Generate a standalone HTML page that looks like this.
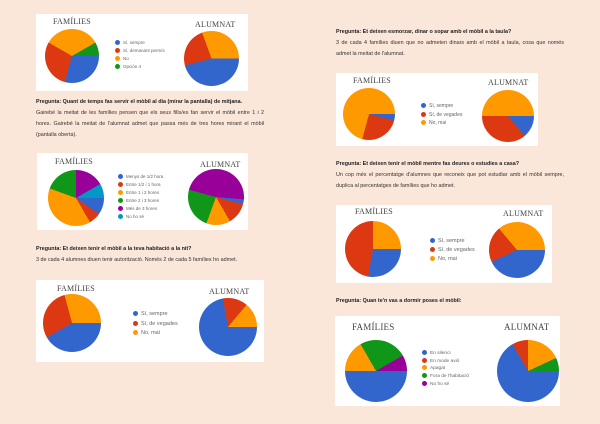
<!DOCTYPE html>
<html><head><meta charset="utf-8"><style>
body{margin:0;width:600px;height:424px;background:#fbe6da;position:relative;overflow:hidden;font-family:"Liberation Sans",sans-serif;}
.box{position:absolute;background:#fff;}
.pie{position:absolute;border-radius:50%;}
.t{position:absolute;font-family:"Liberation Serif",serif;color:#444;font-size:8px;letter-spacing:0.2px;}
.lg{position:absolute;font-size:4.5px;color:#666;line-height:8px;}
.lg span{display:inline-block;width:5px;height:5px;border-radius:50%;margin-right:3px;vertical-align:-1px;}
.p{position:absolute;font-size:5.4px;color:#333;line-height:11px;}
.p b{color:#222;}
.bu{background:#3366cc}.re{background:#dc3912}.or{background:#ff9900}.gr{background:#109618}.pu{background:#990099}.cy{background:#0099c6}
</style></head><body>

<!-- chart 1 -->
<div class="box" style="left:36px;top:14px;width:212px;height:77px"></div>
<div class="t" style="left:53px;top:17px">FAMÍLIES</div>
<div class="t" style="left:195px;top:20px">ALUMNAT</div>
<div class="pie" style="left:45px;top:29px;width:54px;height:54px;background:conic-gradient(#ff9900 0 60deg,#109618 60deg 90deg,#3366cc 90deg 195deg,#dc3912 195deg 300deg,#ff9900 300deg)"></div>
<div class="pie" style="left:184px;top:31px;width:55px;height:55px;background:conic-gradient(#ff9900 0 90deg,#3366cc 90deg 255deg,#dc3912 255deg 340deg,#ff9900 340deg)"></div>
<div class="lg" style="left:115px;top:39px">
<div><span class="bu"></span>Sí, sempre</div><div><span class="re"></span>Sí, demanant permís</div><div><span class="or"></span>No</div><div><span class="gr"></span>Opción 4</div></div>

<div class="p" style="left:36px;top:97px;width:228px;text-align:justify">
<b>Pregunta: Quant de temps fas servir el mòbil al dia (mirar la pantalla) de mitjana.</b><br>
Gairebé la meitat de les famílies pensen que els seus fills/es fan servir el mòbil entre 1 i 2 hores. Gairebé la meitat de l'alumnat admet que passa més de tres hores mirant el mòbil (pantalla oberta).</div>

<!-- chart 2 -->
<div class="box" style="left:37px;top:153px;width:211px;height:77px"></div>
<div class="t" style="left:55px;top:157px">FAMÍLIES</div>
<div class="t" style="left:200px;top:160px">ALUMNAT</div>
<div class="pie" style="left:48px;top:170px;width:56px;height:56px;background:conic-gradient(#990099 0 60deg,#0099c6 60deg 90deg,#3366cc 90deg 125deg,#dc3912 125deg 150deg,#ff9900 150deg 290deg,#109618 290deg)"></div>
<div class="pie" style="left:188px;top:169px;width:56px;height:56px;background:conic-gradient(#990099 0 95deg,#3366cc 95deg 105deg,#dc3912 105deg 150deg,#ff9900 150deg 200deg,#109618 200deg 285deg,#990099 285deg)"></div>
<div class="lg" style="left:118px;top:173px">
<div><span class="bu"></span>Menys de 1/2 hora</div><div><span class="re"></span>Entre 1/2 i 1 hora</div><div><span class="or"></span>Entre 1 i 2 hores</div><div><span class="gr"></span>Entre 2 i 3 hores</div><div><span class="pu"></span>Més de 3 hores</div><div><span class="cy"></span>No ho sé</div></div>

<div class="p" style="left:36px;top:244px;width:250px">
<b>Pregunta: Et deixen tenir el mòbil a la teva habitació a la nit?</b><br>
3 de cada 4 alumnes diuen tenir autorització. Només 2 de cada 5 famílies ho admet.</div>

<!-- chart 3 -->
<div class="box" style="left:36px;top:280px;width:228px;height:82px"></div>
<div class="t" style="left:57px;top:284px">FAMÍLIES</div>
<div class="t" style="left:209px;top:287px">ALUMNAT</div>
<div class="pie" style="left:43px;top:294px;width:58px;height:58px;background:conic-gradient(#ff9900 0 90deg,#3366cc 90deg 240deg,#dc3912 240deg 345deg,#ff9900 345deg)"></div>
<div class="pie" style="left:199px;top:298px;width:58px;height:58px;background:conic-gradient(#dc3912 0 40deg,#ff9900 40deg 90deg,#3366cc 90deg 350deg,#dc3912 350deg)"></div>
<div class="lg" style="left:133px;top:310px;font-size:5.5px;line-height:9.7px">
<div><span class="bu"></span>Sí, sempre</div><div><span class="re"></span>Sí, de vegades</div><div><span class="or"></span>No, mai</div></div>

<!-- right column -->
<div class="p" style="left:336px;top:27px;width:228px;text-align:justify">
<b>Pregunta: Et deixen esmorzar, dinar o sopar amb el mòbil a la taula?</b><br>
3 de cada 4 famílies diuen que no admeten dinars amb el mòbil a taula, cosa que només admet la meitat de l'alumnat.</div>

<div class="box" style="left:336px;top:73px;width:202px;height:73px"></div>
<div class="t" style="left:353px;top:76px">FAMÍLIES</div>
<div class="t" style="left:488px;top:78px">ALUMNAT</div>
<div class="pie" style="left:343px;top:88px;width:52px;height:52px;background:conic-gradient(#ff9900 0 90deg,#3366cc 90deg 105deg,#dc3912 105deg 195deg,#ff9900 195deg)"></div>
<div class="pie" style="left:482px;top:90px;width:52px;height:52px;background:conic-gradient(#ff9900 0 90deg,#3366cc 90deg 140deg,#dc3912 140deg 270deg,#ff9900 270deg)"></div>
<div class="lg" style="left:421px;top:102px;font-size:5px;line-height:8.5px">
<div><span class="bu"></span>Sí, sempre</div><div><span class="re"></span>Sí, de vegades</div><div><span class="or"></span>No, mai</div></div>

<div class="p" style="left:336px;top:159px;width:228px;text-align:justify">
<b>Pregunta: Et deixen tenir el mòbil mentre fas deures o estudies a casa?</b><br>
Un cop més el percentatge d'alumnes que reconeix que pot estudiar amb el mòbil sempre, duplica al percentatges de famílies que ho admet.</div>

<div class="box" style="left:336px;top:205px;width:216px;height:78px"></div>
<div class="t" style="left:355px;top:207px">FAMÍLIES</div>
<div class="t" style="left:503px;top:209px">ALUMNAT</div>
<div class="pie" style="left:345px;top:221px;width:56px;height:56px;background:conic-gradient(#ff9900 0 90deg,#3366cc 90deg 190deg,#dc3912 190deg 360deg)"></div>
<div class="pie" style="left:489px;top:222px;width:56px;height:56px;background:conic-gradient(#ff9900 0 90deg,#3366cc 90deg 245deg,#dc3912 245deg 320deg,#ff9900 320deg)"></div>
<div class="lg" style="left:430px;top:237px;font-size:5.5px;line-height:9px">
<div><span class="bu"></span>Sí, sempre</div><div><span class="re"></span>Sí, de vegades</div><div><span class="or"></span>No, mai</div></div>

<div class="p" style="left:336px;top:296px;width:228px"><b>Pregunta: Quan te'n vas a dormir poses el mòbil:</b></div>

<div class="box" style="left:335px;top:316px;width:225px;height:90px"></div>
<div class="t" style="left:352px;top:322px;font-size:9px">FAMÍLIES</div>
<div class="t" style="left:504px;top:322px;font-size:9px">ALUMNAT</div>
<div class="pie" style="left:345px;top:340px;width:62px;height:62px;background:conic-gradient(#109618 0 60deg,#990099 60deg 90deg,#3366cc 90deg 270deg,#ff9900 270deg 330deg,#109618 330deg)"></div>
<div class="pie" style="left:497px;top:340px;width:62px;height:62px;background:conic-gradient(#ff9900 0 65deg,#109618 65deg 90deg,#3366cc 90deg 330deg,#dc3912 330deg)"></div>
<div class="lg" style="left:422px;top:350px;font-size:4.8px;line-height:7.7px">
<div><span class="bu"></span>En silenci</div><div><span class="re"></span>En mode avió</div><div><span class="or"></span>Apagat</div><div><span class="gr"></span>Fora de l'habitació</div><div><span class="pu"></span>No ho sé</div></div>

</body></html>
